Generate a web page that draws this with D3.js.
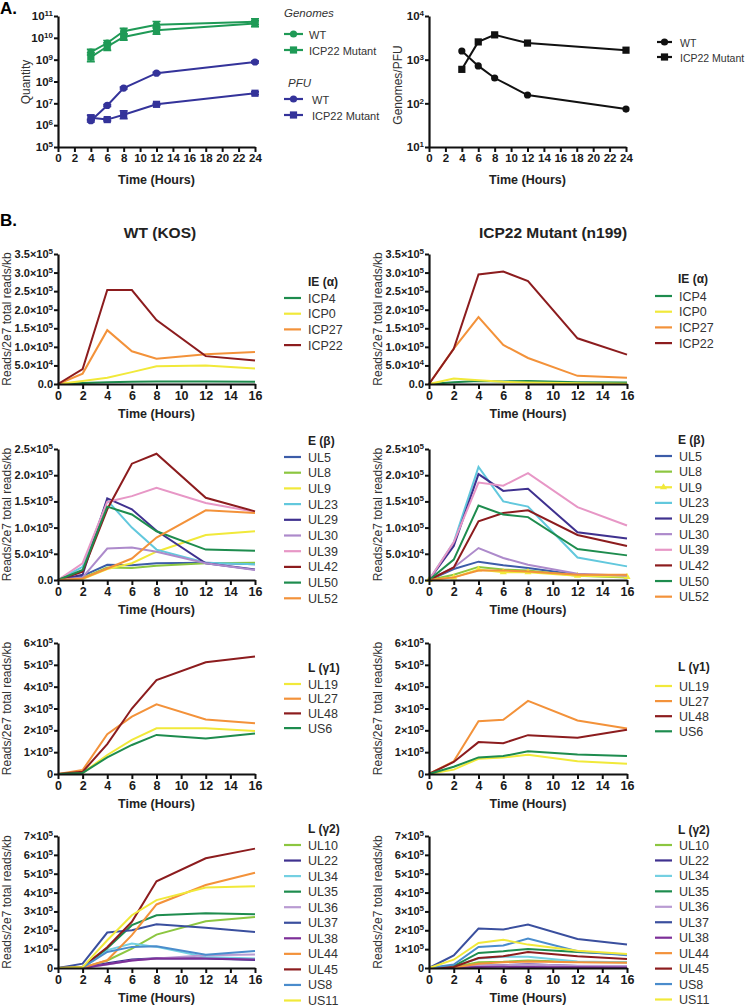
<!DOCTYPE html>
<html>
<head>
<meta charset="utf-8">
<script src="https://cdn.jsdelivr.net/npm/d3@7"></script>
<style>
body { margin: 0; background: #fff; }
svg { display: block; font-family: "Liberation Sans", Arial, sans-serif; }
</style>
</head>
<body>
<svg id="chart" width="747" height="1007"></svg>
<script>
// ---------- data: panel A ----------
const hoursA = [4, 6, 8, 12, 24];
const xTicksA = [0, 2, 4, 6, 8, 10, 12, 14, 16, 18, 20, 22, 24];
const yTicksQuantity = [1e5, 1e6, 1e7, 1e8, 1e9, 1e10, 1e11];
const yTicksRatio = [1e1, 1e2, 1e3, 1e4];

const genomesWT = [2.2e9, 5.8e9, 2.0e10, 4.0e10, 5.5e10];
const genomesWTErr = [1.35, 1.3, 1.35, 1.4, 1.35];   // fold
const genomesMut = [1.3e9, 4.0e9, 1.1e10, 2.2e10, 4.5e10];
const genomesMutErr = [1.6, 1.5, 1.4, 1.5, 1.4];
const pfuWT = [1.6e6, 8.0e6, 5.0e7, 2.4e8, 7.8e8];
const pfuWTErr = [1.15, 1.1, 1.1, 1.1, 1.1];
const pfuMut = [2.2e6, 1.8e6, 3.0e6, 9.0e6, 2.9e7];
const pfuMutErr = [1.3, 1.15, 1.5, 1.1, 1.15];
const ratioWT = [1580, 720, 380, 155, 74];
const ratioMut = [600, 2550, 3700, 2400, 1650];

// ---------- data: panel B ----------
const hoursB = [0, 2, 4, 6, 8, 12, 16];
const xTicksB = [0, 2, 4, 6, 8, 10, 12, 14, 16];

const ieGenes = ["ICP4", "ICP0", "ICP27", "ICP22"];
const ieWT = [
  [0, 3e3, 5e3, 6e3, 7e3, 7e3, 6e3],
  [0, 8e3, 1.7e4, 3.2e4, 4.8e4, 5.0e4, 4.2e4],
  [0, 2.8e4, 1.45e5, 8.8e4, 6.8e4, 8.0e4, 8.6e4],
  [0, 4.0e4, 2.53e5, 2.53e5, 1.72e5, 7.5e4, 6.3e4]
];
const ieMut = [
  [0, 5e3, 8e3, 7e3, 8e3, 5e3, 4e3],
  [0, 1.5e4, 1.0e4, 6e3, 4e3, 2e3, 1e3],
  [0, 9.5e4, 1.8e5, 1.05e5, 7.0e4, 2.2e4, 1.7e4],
  [0, 9.5e4, 2.95e5, 3.03e5, 2.77e5, 1.23e5, 7.9e4]
];
const ieYTicks = [0, 5e4, 1e5, 1.5e5, 2e5, 2.5e5, 3e5, 3.5e5];

const eGenes = ["UL5", "UL8", "UL9", "UL23", "UL29", "UL30", "UL39", "UL42", "UL50", "UL52"];
const eWT = [
  [0, 0.08e5, 0.29e5, 0.28e5, 0.32e5, 0.33e5, 0.30e5],
  [0, 0.04e5, 0.24e5, 0.23e5, 0.27e5, 0.32e5, 0.33e5],
  [0, 0.02e5, 0.21e5, 0.32e5, 0.54e5, 0.86e5, 0.93e5],
  [0, 0.25e5, 1.52e5, 1.00e5, 0.58e5, 0.33e5, 0.30e5],
  [0, 0.10e5, 1.56e5, 1.35e5, 0.94e5, 0.32e5, 0.20e5],
  [0, 0.05e5, 0.60e5, 0.62e5, 0.54e5, 0.32e5, 0.19e5],
  [0, 0.32e5, 1.49e5, 1.60e5, 1.76e5, 1.47e5, 1.30e5],
  [0, 0.16e5, 1.35e5, 2.22e5, 2.41e5, 1.57e5, 1.31e5],
  [0, 0.19e5, 1.40e5, 1.25e5, 0.93e5, 0.58e5, 0.56e5],
  [0, 0.03e5, 0.22e5, 0.41e5, 0.81e5, 1.33e5, 1.28e5]
];
const eMut = [
  [0, 0.21e5, 0.35e5, 0.28e5, 0.23e5, 0.10e5, 0.08e5],
  [0, 0.10e5, 0.25e5, 0.20e5, 0.18e5, 0.08e5, 0.05e5],
  [0, 0.05e5, 0.20e5, 0.15e5, 0.15e5, 0.08e5, 0.06e5],
  [0, 0.72e5, 2.16e5, 1.50e5, 1.40e5, 0.43e5, 0.26e5],
  [0, 0.65e5, 2.02e5, 1.70e5, 1.74e5, 0.91e5, 0.79e5],
  [0, 0.24e5, 0.61e5, 0.42e5, 0.29e5, 0.12e5, 0.08e5],
  [0, 0.72e5, 1.86e5, 1.80e5, 2.04e5, 1.39e5, 1.04e5],
  [0, 0.24e5, 1.12e5, 1.28e5, 1.33e5, 0.86e5, 0.65e5],
  [0, 0.39e5, 1.42e5, 1.25e5, 1.20e5, 0.59e5, 0.47e5],
  [0, 0.05e5, 0.18e5, 0.18e5, 0.16e5, 0.10e5, 0.10e5]
];
const eYTicks = [0, 5e4, 1e5, 1.5e5, 2e5, 2.5e5];

const l1Genes = ["UL19", "UL27", "UL48", "US6"];
const l1WT = [
  [0, 0.05e5, 0.87e5, 1.56e5, 2.09e5, 2.09e5, 1.97e5],
  [0, 0.18e5, 1.82e5, 2.63e5, 3.19e5, 2.50e5, 2.32e5],
  [0, 0.10e5, 1.37e5, 3.00e5, 4.30e5, 5.12e5, 5.38e5],
  [0, 0.05e5, 0.76e5, 1.33e5, 1.79e5, 1.63e5, 1.86e5]
];
const l1Mut = [
  [0, 0.20e5, 0.70e5, 0.75e5, 0.88e5, 0.58e5, 0.47e5],
  [0, 0.58e5, 2.42e5, 2.48e5, 3.35e5, 2.45e5, 2.08e5],
  [0, 0.55e5, 1.46e5, 1.41e5, 1.78e5, 1.66e5, 2.03e5],
  [0, 0.33e5, 0.76e5, 0.82e5, 1.04e5, 0.89e5, 0.83e5]
];
const l1YTicks = [0, 1e5, 2e5, 3e5, 4e5, 5e5, 6e5];

const l2Genes = ["UL10", "UL22", "UL34", "UL35", "UL36", "UL37", "UL38", "UL44", "UL45", "US8", "US11"];
const l2WT = [
  [0, 0.02e5, 0.40e5, 1.03e5, 1.77e5, 2.48e5, 2.71e5],
  [0, 0.00e5, 0.25e5, 0.45e5, 0.52e5, 0.50e5, 0.42e5],
  [0, 0.05e5, 0.95e5, 1.30e5, 1.12e5, 0.58e5, 0.50e5],
  [0, 0.05e5, 1.05e5, 2.27e5, 2.80e5, 2.90e5, 2.85e5],
  [0, 0.00e5, 0.18e5, 0.40e5, 0.50e5, 0.67e5, 0.71e5],
  [0, 0.23e5, 1.88e5, 2.00e5, 2.32e5, 2.13e5, 1.91e5],
  [0, 0.00e5, 0.20e5, 0.40e5, 0.50e5, 0.50e5, 0.45e5],
  [0, 0.02e5, 0.41e5, 1.74e5, 3.37e5, 4.40e5, 5.05e5],
  [0, 0.05e5, 1.10e5, 2.45e5, 4.60e5, 5.82e5, 6.33e5],
  [0, 0.03e5, 0.85e5, 1.12e5, 1.15e5, 0.70e5, 0.90e5],
  [0, 0.05e5, 1.47e5, 2.80e5, 3.60e5, 4.27e5, 4.34e5]
];
const l2Mut = [
  [0, 0.05e5, 0.30e5, 0.33e5, 0.40e5, 0.32e5, 0.30e5],
  [0, 0.02e5, 0.12e5, 0.15e5, 0.20e5, 0.10e5, 0.08e5],
  [0, 0.10e5, 0.50e5, 0.60e5, 0.60e5, 0.35e5, 0.30e5],
  [0, 0.10e5, 0.80e5, 0.89e5, 1.01e5, 0.85e5, 0.71e5],
  [0, 0.02e5, 0.15e5, 0.15e5, 0.18e5, 0.12e5, 0.10e5],
  [0, 0.67e5, 2.09e5, 2.04e5, 2.30e5, 1.54e5, 1.24e5],
  [0, 0.01e5, 0.05e5, 0.06e5, 0.05e5, 0.04e5, 0.03e5],
  [0, 0.02e5, 0.22e5, 0.30e5, 0.35e5, 0.30e5, 0.28e5],
  [0, 0.05e5, 0.53e5, 0.62e5, 0.85e5, 0.62e5, 0.48e5],
  [0, 0.18e5, 1.12e5, 1.19e5, 1.56e5, 0.89e5, 0.67e5],
  [0, 0.44e5, 1.33e5, 1.50e5, 1.24e5, 0.92e5, 0.74e5]
];
const l2YTicks = [0, 1e5, 2e5, 3e5, 4e5, 5e5, 6e5, 7e5];

// ---------- styles ----------
const geneColor = {
  ICP4: "#1e8c4e", ICP0: "#f1e93a", ICP27: "#f3923a", ICP22: "#8c1c1e",
  UL5: "#3c5ca8", UL8: "#8cc640", UL9: "#f1e93a", UL23: "#62c8dd", UL29: "#3f318f",
  UL30: "#ad8acb", UL39: "#e797c6", UL42: "#8c1c1e", UL50: "#1e8c4e", UL52: "#f3923a",
  UL19: "#f1e93a", UL27: "#f3923a", UL48: "#8c1c1e", US6: "#1e8c4e",
  UL10: "#8cc640", UL22: "#3f318f", UL34: "#74d0e2", UL35: "#1e8c4e", UL36: "#b99bd2",
  UL37: "#3a4f9e", UL38: "#7d2f98", UL44: "#f3923a", UL45: "#8c1c1e", US8: "#4a8ccc", US11: "#f1e93a"
};
const green = "#1f9a56";
const navy = "#34339a";

const svg = d3.select("#chart");

function fmtDec(v) {
  if (v === 0) return ["0.0"];
  const e = Math.floor(Math.log10(v) + 1e-9);
  return [(v / Math.pow(10, e)).toFixed(1) + "×10", e];
}
function fmtInt(v) {
  if (v === 0) return ["0"];
  const e = Math.floor(Math.log10(v) + 1e-9);
  return [(v / Math.pow(10, e)).toFixed(0) + "×10", e];
}
function fmtPow(v) {
  return ["10", Math.round(Math.log10(v))];
}

function marker(g, type, cx, cy, color) {
  if (type === "circle") {
    g.append("circle").attr("cx", cx).attr("cy", cy).attr("r", 3.6).attr("fill", color);
  } else if (type === "square") {
    g.append("rect").attr("x", cx - 3.6).attr("y", cy - 3.6).attr("width", 7.2).attr("height", 7.2).attr("fill", color);
  } else if (type === "triangle") {
    g.append("path").attr("d", d3.symbol(d3.symbolTriangle, 22)()).attr("transform", `translate(${cx},${cy})`).attr("fill", color);
  }
}

function drawPanel(o) {
  const g = svg.append("g");
  const x = d3.scaleLinear().domain(o.xDomain).range([o.x0, o.x1]);
  const y = (o.log ? d3.scaleLog() : d3.scaleLinear()).domain(o.yDomain).range([o.y1, o.y0]);

  // series
  o.series.forEach(s => {
    const pts = s.x.map((t, i) => [t, s.v[i]]);
    const sg = g.append("g");
    if (s.err) {
      pts.forEach((p, i) => {
        const f = s.err[i];
        const yTop = y(p[1] * f), yBot = y(p[1] / f), cx = x(p[0]);
        sg.append("path")
          .attr("d", `M${cx},${yTop}V${yBot}M${cx - 4},${yTop}H${cx + 4}M${cx - 4},${yBot}H${cx + 4}`)
          .attr("stroke", s.color).attr("stroke-width", 1.6).attr("fill", "none");
      });
    }
    sg.append("path")
      .datum(pts)
      .attr("fill", "none")
      .attr("stroke", s.color)
      .attr("stroke-width", o.lineWidth || 2)
      .attr("d", d3.line().x(d => x(d[0])).y(d => y(d[1])));
    if (s.marker) pts.forEach(p => marker(sg, s.marker, x(p[0]), y(p[1]), s.color));
  });

  // axes
  const xa = g.append("g")
    .attr("transform", `translate(0,${o.y1})`)
    .call(d3.axisBottom(x).tickValues(o.xTicks).tickSize(5).tickSizeOuter(0).tickPadding(2).tickFormat(d3.format("d")));
  const ya = g.append("g")
    .attr("transform", `translate(${o.x0},0)`)
    .call(d3.axisLeft(y).tickValues(o.yTicks).tickSize(4).tickSizeOuter(0).tickPadding(1).tickFormat(""));

  [xa, ya].forEach(a => {
    a.attr("font-family", null).attr("font-size", null);
    a.select(".domain").attr("stroke", "#111").attr("stroke-width", 2.2);
    a.selectAll(".tick line").attr("stroke", "#111").attr("stroke-width", 2);
  });
  xa.selectAll(".tick text")
    .attr("font-size", o.xFont || "12.5px").attr("font-weight", "bold").attr("fill", "#1a1a1a");
  ya.selectAll(".tick").each(function (d) {
    const parts = o.yFmt(d);
    const t = d3.select(this).select("text")
      .attr("font-size", o.yFont || "11px").attr("font-weight", "bold").attr("fill", "#1a1a1a");
    t.text(null);
    t.append("tspan").text(parts[0]);
    if (parts.length > 1) t.append("tspan").attr("dy", "-0.5em").attr("font-size", "8px").text(parts[1]);
  });

  // axis titles
  g.append("text")
    .attr("x", (o.x0 + o.x1) / 2).attr("y", o.y1 + (o.xTitleGap || 34))
    .attr("text-anchor", "middle").attr("font-size", "12.5px").attr("font-weight", "bold").attr("fill", "#222")
    .text("Time (Hours)");
  g.append("text")
    .attr("transform", `translate(${o.yTitleX},${o.yTitleY || (o.y0 + o.y1) / 2}) rotate(-90)`)
    .attr("text-anchor", "middle").attr("font-size", "12px").attr("fill", "#333")
    .text(o.yTitle);

  // legend
  if (o.legend) {
    const L = o.legend;
    const lg = g.append("g");
    if (L.title) {
      lg.append("text").attr("x", L.titleX || L.x + 24).attr("y", L.titleY + 4)
        .attr("font-size", "12px").attr("font-weight", "bold").attr("fill", "#222").text(L.title);
    }
    L.items.forEach((it, i) => {
      const yy = L.y + i * L.step;
      lg.append("line").attr("x1", L.x).attr("x2", L.x + L.len).attr("y1", yy).attr("y2", yy)
        .attr("stroke", it.color).attr("stroke-width", 2.2);
      if (it.marker) marker(lg, it.marker, L.x + L.len / 2, yy, it.color);
      lg.append("text").attr("x", L.x + L.len + L.gap).attr("y", yy + 4.5)
        .attr("font-size", L.font || "12.5px").attr("fill", "#333").text(it.label);
    });
  }
}

// ---------- Panel A ----------
svg.append("text").attr("x", 0).attr("y", 14).attr("font-size", "17px").attr("font-weight", "bold").text("A.");

drawPanel({
  x0: 58, x1: 255, y0: 16, y1: 147,
  xDomain: [0, 24], xTicks: xTicksA, xFont: "11.5px", yFont: "11.5px", xTitleGap: 37,
  log: true, yDomain: [1e5, 1e11], yTicks: yTicksQuantity, yFmt: fmtPow,
  yTitle: "Quantity", yTitleX: 30, yTitleY: 82,
  series: [
    { x: hoursA, v: genomesWT, err: genomesWTErr, color: green, marker: "circle" },
    { x: hoursA, v: genomesMut, err: genomesMutErr, color: green, marker: "square" },
    { x: hoursA, v: pfuWT, err: pfuWTErr, color: navy, marker: "circle" },
    { x: hoursA, v: pfuMut, err: pfuMutErr, color: navy, marker: "square" }
  ]
});
const legA = svg.append("g");
legA.append("text").attr("x", 284).attr("y", 17).attr("font-size", "11.5px").attr("font-style", "italic").attr("fill", "#333").text("Genomes");
legA.append("text").attr("x", 288).attr("y", 87).attr("font-size", "11.5px").attr("font-style", "italic").attr("fill", "#333").text("PFU");
[
  { y: 34, color: green, marker: "circle", label: "WT", tx: 309 },
  { y: 50, color: green, marker: "square", label: "ICP22 Mutant", tx: 309 },
  { y: 99, color: navy, marker: "circle", label: "WT", tx: 312 },
  { y: 115, color: navy, marker: "square", label: "ICP22 Mutant", tx: 312 }
].forEach(it => {
  legA.append("line").attr("x1", 284).attr("x2", 303).attr("y1", it.y).attr("y2", it.y).attr("stroke", it.color).attr("stroke-width", 2.2);
  marker(legA, it.marker, 293.5, it.y, it.color);
  legA.append("text").attr("x", it.tx).attr("y", it.y + 4.5).attr("font-size", "11px").attr("fill", "#333").text(it.label);
});

drawPanel({
  x0: 429, x1: 626, y0: 16, y1: 147,
  xDomain: [0, 24], xTicks: xTicksA, xFont: "11.5px", yFont: "11.5px", xTitleGap: 37,
  log: true, yDomain: [1e1, 1e4], yTicks: yTicksRatio, yFmt: fmtPow,
  yTitle: "Genomes/PFU", yTitleX: 402, yTitleY: 85,
  series: [
    { x: hoursA, v: ratioWT, color: "#111", marker: "circle" },
    { x: hoursA, v: ratioMut, color: "#111", marker: "square" }
  ],
  legend: {
    x: 657, len: 15, gap: 8, y: 42, step: 15, font: "10.5px",
    items: [
      { label: "WT", color: "#111", marker: "circle" },
      { label: "ICP22 Mutant", color: "#111", marker: "square" }
    ]
  }
});

// ---------- Panel B ----------
svg.append("text").attr("x", 0).attr("y", 226).attr("font-size", "17px").attr("font-weight", "bold").text("B.");
svg.append("text").attr("x", 160).attr("y", 238).attr("text-anchor", "middle").attr("font-size", "15.5px").attr("font-weight", "bold").attr("fill", "#222").text("WT (KOS)");
svg.append("text").attr("x", 553).attr("y", 238).attr("text-anchor", "middle").attr("font-size", "15.5px").attr("font-weight", "bold").attr("fill", "#222").text("ICP22 Mutant (n199)");

const cols = [{ x0: 58, x1: 255, ytx: 11, lx: 284, tx: 308 }, { x0: 429, x1: 627, ytx: 382, lx: 655, tx: 678 }];
const rows = [
  { y0: 254, y1: 384, title: "IE (α)", genes: ieGenes, data: [ieWT, ieMut], ticks: ieYTicks, yDomain: [0, 3.5e5], fmt: fmtDec,
    titleY: [282, 279], itemY: [298, 296], step: [15.7, 15.7] },
  { y0: 449, y1: 580, title: "E (β)", genes: eGenes, data: [eWT, eMut], ticks: eYTicks, yDomain: [0, 2.5e5], fmt: fmtDec,
    titleY: [441, 440], itemY: [457, 456], step: [15.7, 15.63] },
  { y0: 643, y1: 774, title: "L (γ1)", genes: l1Genes, data: [l1WT, l1Mut], ticks: l1YTicks, yDomain: [0, 6e5], fmt: fmtInt,
    titleY: [668, 667], itemY: [684, 686], step: [14.7, 15.1] },
  { y0: 836, y1: 968, title: "L (γ2)", genes: l2Genes, data: [l2WT, l2Mut], ticks: l2YTicks, yDomain: [0, 7e5], fmt: fmtInt,
    titleY: [829, 830], itemY: [845, 845], step: [15.55, 15.45] }
];

rows.forEach((r, ri) => {
  cols.forEach((c, ci) => {
    const tri = ri === 1 && ci === 1;
    drawPanel({
      x0: c.x0, x1: c.x1, y0: r.y0, y1: r.y1,
      xDomain: [0, 16], xTicks: xTicksB,
      yDomain: r.yDomain, yTicks: r.ticks, yFmt: r.fmt,
      yTitle: "Reads/2e7 total reads/kb", yTitleX: c.ytx,
      series: r.genes.map((gname, gi) => ({
        x: hoursB, v: r.data[ci][gi], color: geneColor[gname],
        marker: tri && gname === "UL9" ? "triangle" : null
      })),
      legend: {
        x: c.lx, len: 17, gap: 7, y: r.itemY[ci], step: r.step[ci],
        title: r.title, titleX: c.tx, titleY: r.titleY[ci],
        items: r.genes.map(gname => ({
          label: gname, color: geneColor[gname],
          marker: tri && gname === "UL9" ? "triangle" : null
        }))
      }
    });
  });
});
</script>
</body>
</html>
